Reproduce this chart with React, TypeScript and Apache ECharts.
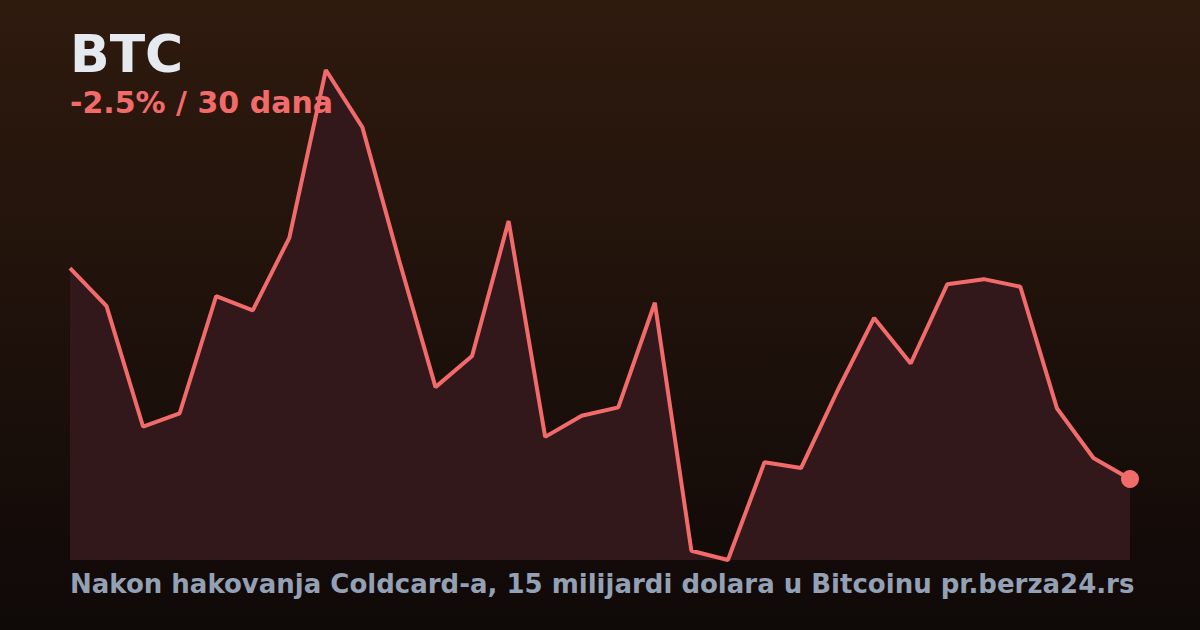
import * as echarts from 'echarts'
import React, { useEffect, useRef } from 'react'

// BTC cijena, zadnjih 30 dana
const days: string[] = Array.from({ length: 30 }, (_, i) => `D${i + 1}`)
const prices: number[] = [
  100000, 99550, 98120, 98280, 99670, 99500, 100360, 102350, 101670, 100100,
  98590, 98960, 100560, 98000, 98250, 98350, 99590, 96650, 96540, 97700,
  97630, 98550, 99410, 98870, 99810, 99870, 99780, 98340, 97750, 97500
]
const title = 'BTC'
const subtitle = '-2.5% / 30 dana'
const footer = 'Nakon hakovanja Coldcard-a, 15 milijardi dolara u Bitcoinu pr.berza24.rs'

const FONT = '"DejaVu Sans", sans-serif'
const RED = '#f26b6b'

const App: React.FC = () => {
  const chartRef = useRef<HTMLDivElement>(null)

  useEffect(() => {
    const chart = echarts.init(chartRef.current!, undefined, { renderer: 'svg' })
    chart.setOption({
      animation: false,
      backgroundColor: new echarts.graphic.LinearGradient(0, 0, 0, 1, [
        { offset: 0, color: '#2f1a0e' },
        { offset: 1, color: '#0f0908' }
      ]),
      grid: { left: 70, right: 70, top: 70, bottom: 70 },
      xAxis: {
        type: 'category',
        data: days,
        boundaryGap: false,
        show: false
      },
      yAxis: {
        type: 'value',
        min: 'dataMin',
        max: 'dataMax',
        show: false
      },
      series: [
        {
          type: 'line',
          data: prices,
          lineStyle: { color: RED, width: 4 },
          itemStyle: { color: RED },
          areaStyle: { color: '#33181b', opacity: 1 },
          symbol: 'circle',
          symbolSize: (_v: number, p: any) => (p.dataIndex === prices.length - 1 ? 18 : 0),
          showSymbol: true
        }
      ],
      graphic: [
        {
          type: 'text',
          z: 100,
          left: 70,
          top: 28,
          style: { text: title, fill: '#e5e9f0', font: `bold 52px ${FONT}` }
        },
        {
          type: 'text',
          z: 100,
          left: 70,
          top: 87,
          style: { text: subtitle, fill: RED, font: `bold 30px ${FONT}` }
        },
        {
          type: 'text',
          z: 100,
          left: 70,
          top: 571,
          style: { text: footer, fill: '#94a0b4', font: `bold 26px ${FONT}` }
        }
      ]
    })
    return () => {
      chart.dispose()
    }
  }, [])

  return (
    <div
      ref={chartRef}
      style={{ width: 1200, height: 630, position: 'absolute', left: 0, top: 0 }}
    />
  )
}

export default App
